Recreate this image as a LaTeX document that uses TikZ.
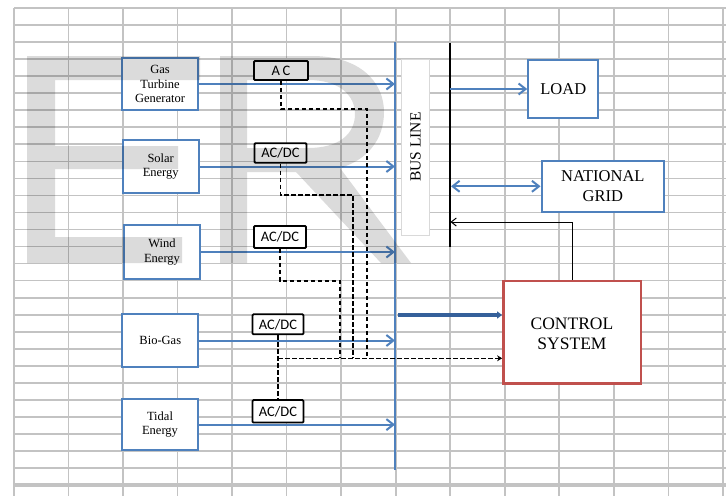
\documentclass[tikz,border=0pt]{standalone}
\usepackage{fontspec}
\setmainfont{Liberation Serif}
\newfontfamily\calib{Carlito}
\usetikzlibrary{arrows.meta}
\definecolor{accblue}{HTML}{4F81BD}
\definecolor{deepblue}{HTML}{35609A}
\definecolor{accred}{HTML}{C0504D}
\definecolor{gridgray}{HTML}{C3C3C3}
\begin{document}
\begin{tikzpicture}[x=1pt,y=-1pt,
  src/.style={draw=accblue, line width=2.2pt, fill=white, minimum width=76pt, minimum height=52pt, align=center, inner sep=0pt, font=\fontsize{12.5}{14.5}\selectfont},
  bigbox/.style={draw=accblue, line width=2.2pt, fill=white, align=center, inner sep=0pt, font=\fontsize{16.5}{20}\selectfont},
  conv/.style={draw=black, line width=1.8pt, fill=white, rounded corners=1pt, minimum width=52pt, minimum height=20pt, inner sep=0pt, font=\calib\fontsize{14.5}{16}\selectfont},
  flow/.style={accblue, line width=2pt, -{Straight Barb[length=7pt,width=11pt]}},
  ctrlline/.style={black, dash pattern=on 4.5pt off 2.5pt, line width=1.5pt},
  gridline/.style={gridgray, line width=1.7pt},
  wmark/.style={fill=black, opacity=0.14}
]
\useasboundingbox (0,0) rectangle (726,496);
\fill[white] (0,0) rectangle (726,496);
% spreadsheet grid
\foreach \k in {0,...,27} \draw[gridline] (14,{8+17.04*\k}) -- (726,{8+17.04*\k});
\draw[gridgray, line width=3.4pt] (14,485) -- (726,485);
\foreach \j in {0,...,13} \draw[gridline] ({13.8+54.55*\j},8) -- ({13.8+54.55*\j},496);

% bus lines
\coordinate (bustop) at (395,42);
\coordinate (busbot) at (395,470);
\draw[accblue, line width=2pt] (bustop) -- (busbot);
\node[rotate=90, draw=black!15, line width=0.8pt, fill=white, minimum width=176pt, minimum height=28pt, inner sep=0pt, font=\fontsize{15.5}{18}\selectfont] (busbox) at (415.5,147) {BUS LINE};
\coordinate (btop) at (449.5,42.5);
\coordinate (bbot) at (449.5,247);
\draw[black, line width=2pt] (btop) -- (bbot);

% sources
\node[src] (gas) at (160,84) {Gas\\Turbine\\Generator};
\node[src, minimum height=53pt] (solar) at (160.7,166.5) {\raisebox{6.5pt}{\begin{tabular}{@{}c@{}}Solar\\Energy\end{tabular}}};
\node[src, minimum height=54pt] (wind) at (162,252) {\raisebox{6.5pt}{\begin{tabular}{@{}c@{}}Wind\\Energy\end{tabular}}};
\node[src, minimum height=52.5pt] (bio) at (160.3,340.5) {Bio-Gas};
\node[src, minimum height=51pt] (tidal) at (160,424.6) {\raisebox{5.5pt}{\begin{tabular}{@{}c@{}}Tidal\\Energy\end{tabular}}};

% converters
\node[conv, minimum width=54pt, minimum height=19pt] (acg) at (281,70.5) {A\,C};
\node[conv, minimum height=19.5pt] (acs) at (280.5,153) {AC/DC};
\node[conv, minimum height=22pt] (acw) at (280,237) {AC/DC};
\node[conv, minimum width=51pt] (acb) at (278,324.3) {AC/DC};
\node[conv, minimum width=51pt, minimum height=22.5pt] (act) at (278,411.3) {AC/DC};

% loads
\node[bigbox, minimum width=70pt, minimum height=58.6pt] (load) at (563.3,89) {LOAD};
\node[bigbox, minimum width=122.3pt, minimum height=50.7pt] (grid) at (602.8,186.3) {NATIONAL\\GRID};
\node[bigbox, draw=accred, line width=2.4pt, minimum width=137.4pt, minimum height=102.3pt, font=\fontsize{17.5}{20}\selectfont] (ctrl) at (572,332.2) {\raisebox{-8pt}[0pt][0pt]{\begin{tabular}{@{}c@{}}CONTROL\\SYSTEM\end{tabular}}};

% power flows
\draw[flow] (gas.east) -- (gas.east -| bustop);
\draw[flow] (solar.east) -- (solar.east -| bustop);
\draw[flow] (wind.east) -- (wind.east -| bustop);
\draw[flow] (bio.east) -- (bio.east -| bustop);
\draw[flow] (tidal.east) -- (tidal.east -| bustop);
\draw[flow] (load.west -| btop) -- (load.west);
\draw[accblue, line width=2pt, {Straight Barb[length=7pt,width=11pt]}-{Straight Barb[length=7pt,width=11pt]}] (grid.west -| btop) ++(1.5,0) -- (grid.west);
\coordinate (tap) at (398,315);
\draw[deepblue, line width=3.2pt, -{Triangle[length=5pt,width=7pt]}] (tap) -- (tap -| ctrl.west);
\coordinate (fb) at (450.5,222);
\draw[black, line width=1pt, -{Straight Barb[length=5pt,width=8pt]}] (ctrl.north) |- (fb);

% control signals
\coordinate (g1) at (367,109);
\coordinate (s1) at (353,195);
\coordinate (w1) at (340,281);
\coordinate (dj) at (278,358.3);
\draw[ctrlline] (acg.south) |- (g1) -- (g1 |- dj);
\draw[ctrlline] (acs.south) |- (s1) -- (s1 |- dj);
\draw[ctrlline] (acw.south) |- (w1) -- (w1 |- dj);
\draw[ctrlline] (acb.south) -- (act.north);
\draw[ctrlline, -{Stealth[length=5pt,width=6pt]}] (dj) -- (dj -| ctrl.west);

% watermark
\fill[wmark] (27,56) -- (200,56) -- (200,80) -- (55,80) -- (55,146) -- (178,146) -- (178,169) -- (55,169) -- (55,237) -- (182,237) -- (182,263) -- (27,263) -- cycle;
\fill[wmark, even odd rule] (220,263) -- (220,56) -- (312,56) .. controls (360,56) and (384,82) .. (384,112) .. controls (384,140) and (367,160) .. (340,168) -- (411,263) -- (381,263) -- (296,172) -- (247,172) -- (247,263) -- cycle
  (247,80) -- (308,80) .. controls (339,80) and (355,95) .. (355,114) .. controls (355,134) and (339,148) .. (308,148) -- (247,148) -- cycle;
\end{tikzpicture}
\end{document}
